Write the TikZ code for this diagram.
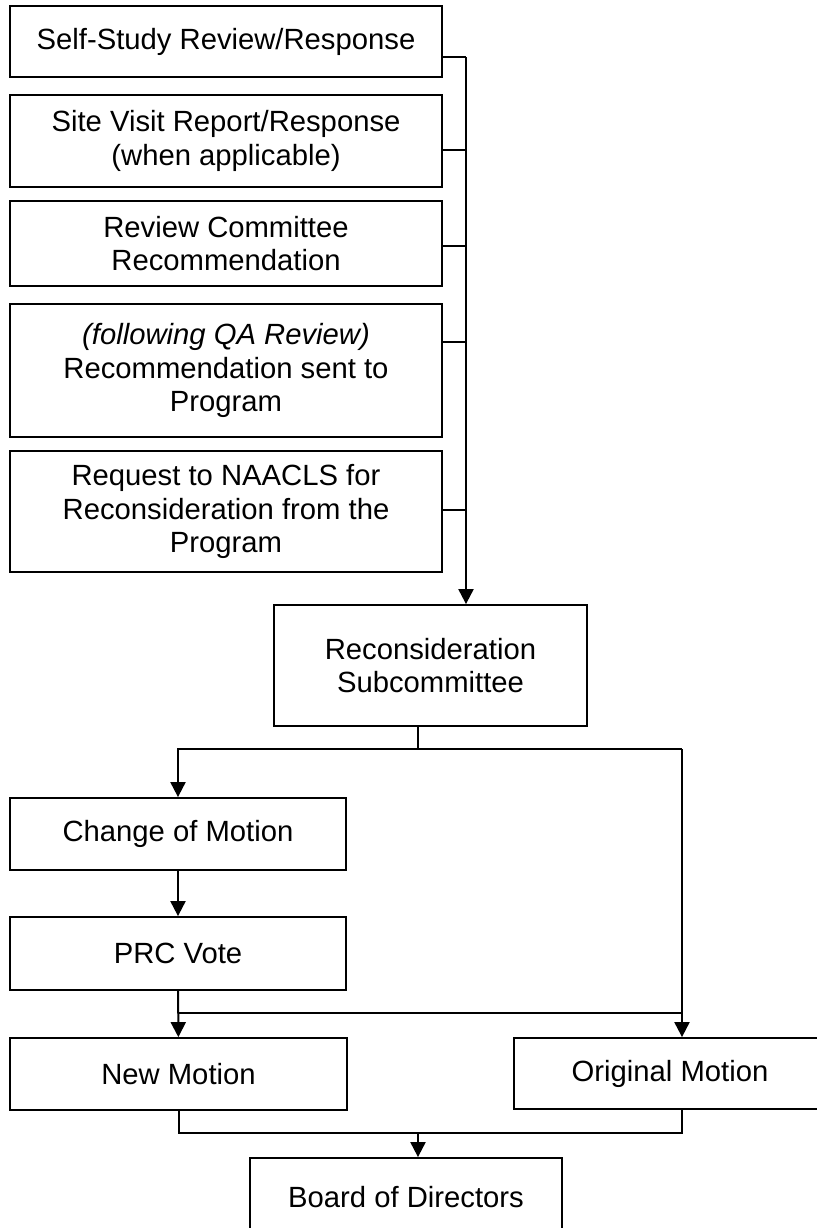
\documentclass[tikz,border=0pt]{standalone}
\usepackage{fontspec}
\setmainfont{Liberation Sans}
\usepackage{tikz}
\usetikzlibrary{arrows.meta,positioning}
\tikzset{font=\fontsize{20.8}{23.8}\selectfont}
\tikzstyle{stage}=[rectangle,draw,line width=0.45mm,align=center,inner sep=0pt]
\tikzstyle{link}=[line width=0.5mm]
\tikzstyle{stub}=[line width=0.38mm]

\begin{document}
\begin{tikzpicture}
  [x=0.25mm,y=-0.25mm,>={Triangle[width=3.75mm,length=3.75mm]}]
  \useasboundingbox (0,0) rectangle (817,1228);
  \clip (0,0) rectangle (817,1228);
  % steps feeding the subcommittee
  \node [stage,minimum width=108mm,minimum height=17.75mm] (selfstudy) at (226,41.5) {Self-Study Review/Response};
  \node [stage,minimum width=108mm,minimum height=23mm] (sitevisit) at (226,141) {Site Visit Report/Response\\(when applicable)};
  \node [stage,minimum width=108mm,minimum height=21.25mm] (revcom) at (226,243.5) {Review Committee\\Recommendation};
  \node [stage,minimum width=108mm,minimum height=33.25mm] (qarec) at (226,370.5) {\textit{(following QA Review)}\\Recommendation sent to\\Program};
  \node [stage,minimum width=108mm,minimum height=30.25mm] (request) at (226,511.5) {Request to NAACLS for\\Reconsideration from the\\Program};
  \node [stage,minimum width=78.25mm,minimum height=30.25mm] (recon) at (430.5,665.5) {Reconsideration\\Subcommittee};
  % outcomes
  \node [stage,minimum width=84mm,minimum height=18mm] (change) at (178,834) {Change of Motion};
  \node [stage,minimum width=84mm,minimum height=18.25mm] (prc) at (178,953.5) {PRC Vote};
  \node [stage,minimum width=84.25mm,minimum height=18mm] (newmot) at (178.5,1074) {New Motion};
  \node [stage,minimum width=78mm,minimum height=17.75mm] (origmot) at (670,1073.5) {Original Motion};
  \node [stage,minimum width=78mm,minimum height=19.5mm] (board) at (406,1197) {Board of Directors};
  \coordinate (j1) at (466,57);
  \coordinate (j2) at (466,150);
  \coordinate (j3) at (466,246);
  \coordinate (j4) at (466,342);
  \coordinate (j5) at (466,510);
  \coordinate (split) at (418,749);
  \coordinate (right1) at (682,749);
  \coordinate (right2) at (682,1013);
  \coordinate (right3) at (682,1133);
  \coordinate (merge) at (418,1133);
\draw[link] (selfstudy.east |- j1) -- (j1);
\draw[link,->] (j1) -- (j1 |- recon.north);
\draw[stub] (sitevisit.east |- j2) -- (j2);
\draw[stub] (revcom.east |- j3) -- (j3);
\draw[stub] (qarec.east |- j4) -- (j4);
\draw[stub] (request.east |- j5) -- (j5);
\draw[link] (recon.south -| split) -- (split);
\draw[link,->] (right1) -| (change.north);
\draw[link,->] (right1) -- (right1 |- origmot.north);
\draw[link,->] (change) -- (prc);
\draw[link,->] (prc) -- (newmot);
\draw[link] (prc.south |- right2) -- (right2);
\draw[link] (newmot.south) |- (right3) -- (right3 |- origmot.south);
\draw[link,->] (merge) -- (merge |- board.north);
\end{tikzpicture}
\end{document}
